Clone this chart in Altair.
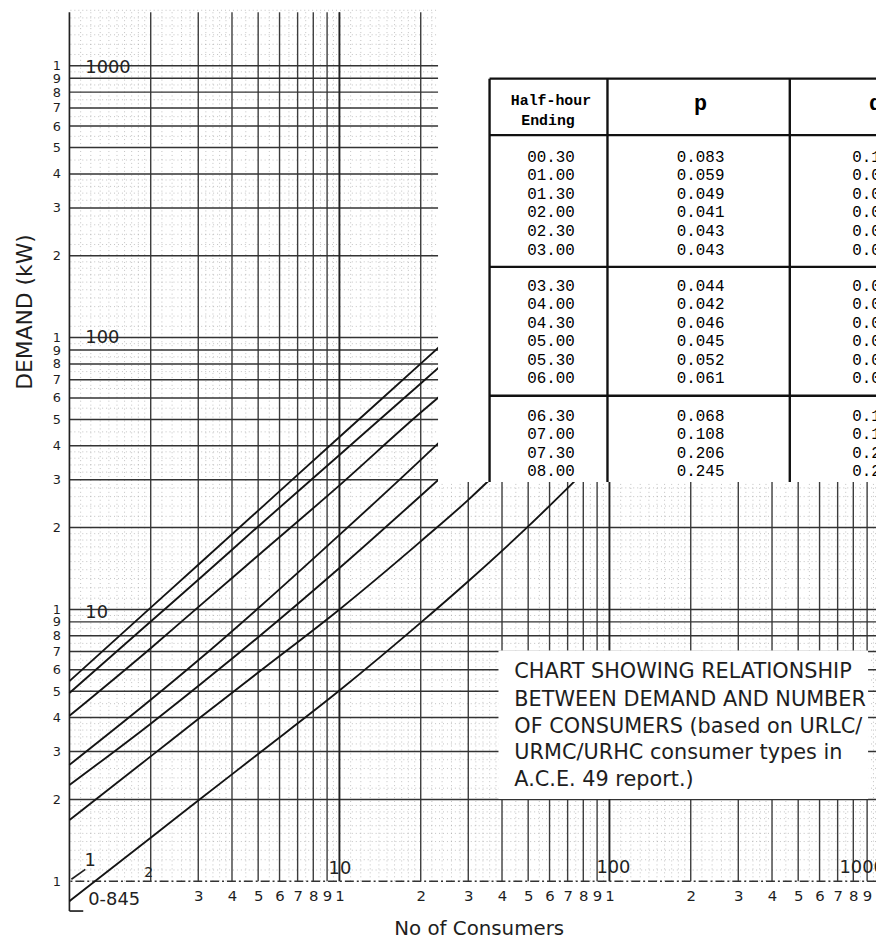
import altair as alt
import pandas as pd

# ---------------- data ----------------
# curves: number of consumers (N) vs demand (kW)
line1_n = [1, 2, 3, 5, 10, 20, 25]
line1_d = [5.45, 10.15, 14.6, 23.1, 43.1, 80.2, 98.0]
line2_n = [1, 2, 3, 5, 10, 20, 25]
line2_d = [4.93, 9.03, 12.85, 20.2, 37.0, 67.8, 82.5]
line3_n = [1, 2, 3, 5, 10, 20, 25]
line3_d = [4.06, 7.2, 10.2, 15.8, 28.6, 53.0, 64.0]
line4_n = [1, 2, 3, 5, 10, 20, 25]
line4_d = [2.68, 4.65, 6.5, 10.1, 18.8, 35.5, 43.8]
line5_n = [1, 2, 3, 5, 10, 20, 25]
line5_d = [2.26, 3.8, 5.23, 7.9, 14.2, 26.2, 32.0]
line6_n = [1, 2, 3, 5, 10, 20, 30, 36]
line6_d = [1.68, 2.88, 3.95, 5.86, 10.0, 17.8, 25.3, 30.0]
line7_n = [1, 2, 3, 5, 10, 20, 30, 50, 75]
line7_d = [0.845, 1.445, 1.98, 2.94, 5.03, 8.94, 12.7, 20.2, 29.9]

# grid / tick values
major_mantissa = [1, 2, 3, 4, 5, 6, 7, 8, 9]
minor_mantissa = [1.1, 1.2, 1.3, 1.4, 1.5, 1.6, 1.7, 1.8, 1.9,
                  2.2, 2.4, 2.6, 2.8, 3.2, 3.4, 3.6, 3.8,
                  4.5, 5.5, 6.5, 7.5, 8.5, 9.5]
decades = [1, 10, 100, 1000]
x_label_values = [3, 4, 5, 6, 7, 8, 9, 10, 20, 30, 40, 50, 60, 70, 80, 90,
                  100, 200, 300, 400, 500, 600, 700, 800, 900]
y_label_values = [1, 2, 3, 4, 5, 6, 7, 8, 9, 10, 20, 30, 40, 50, 60, 70, 80, 90,
                  100, 200, 300, 400, 500, 600, 700, 800, 900, 1000]

# pasted table (partially visible)
table_time = ["00.30", "01.00", "01.30", "02.00", "02.30", "03.00",
              "03.30", "04.00", "04.30", "05.00", "05.30", "06.00",
              "06.30", "07.00", "07.30", "08.00"]
table_p = ["0.083", "0.059", "0.049", "0.041", "0.043", "0.043",
           "0.044", "0.042", "0.046", "0.045", "0.052", "0.061",
           "0.068", "0.108", "0.206", "0.245"]
table_q = ["0.1", "0.0", "0.0", "0.0", "0.0", "0.0",
           "0.0", "0.0", "0.0", "0.0", "0.0", "0.0",
           "0.1", "0.1", "0.2", "0.2"]

caption_lines = ["CHART SHOWING RELATIONSHIP",
                 "BETWEEN DEMAND AND NUMBER",
                 "OF CONSUMERS (based on URLC/",
                 "URMC/URHC consumer types in",
                 "A.C.E. 49 report.)"]

# ---------------- layout ----------------
W, H = 814, 877
XD, YD = 272.5, 274.33          # pixels per decade
X_MAX = 10 ** (W / XD)
Y_MAX = 10 ** (H / YD)
PL, PB = 70, 885                 # page x of N=1, page y of D=1
FONT = "DejaVu Sans"
MONO = "Liberation Mono"


def nx(px):   # page x -> number of consumers on the log scale
    return 10 ** ((px - PL) / XD)


def dy(py):   # page y -> demand on the log scale
    return 10 ** ((PB - py) / YD)


xs = alt.Scale(type="log", domain=[1, X_MAX], nice=False)
ys = alt.Scale(type="log", domain=[1, Y_MAX], nice=False)
LABEL_EXPR = "substring(toString(datum.value), 0, 1)"
ax_x = alt.Axis(values=x_label_values, labelExpr=LABEL_EXPR,
                grid=False, ticks=False, domain=False, labelOverlap=False, labelFlush=False,
                labelBound=False, labelFont=FONT, labelFontSize=15, labelColor="#1e1e1e",
                labelPadding=7, title="No of Consumers", titleFont=FONT, titleFontSize=20,
                titleFontWeight="normal", titleColor="#1e1e1e",
                titleX=413, titleY=48, titleAlign="center", titleBaseline="middle")
ax_y = alt.Axis(values=y_label_values, labelExpr=LABEL_EXPR,
                grid=False, ticks=False, domain=False, labelOverlap=False, labelFlush=False,
                labelBound=False, labelFont=FONT, labelFontSize=13, labelColor="#1e1e1e",
                labelPadding=9, title="DEMAND (kW)", titleFont=FONT, titleFontSize=22,
                titleFontWeight="normal", titleColor="#1e1e1e",
                titleX=-45, titleY=302, titleAngle=270, titleAlign="center",
                titleBaseline="middle")


def X(f):
    return alt.X(f, type="quantitative", scale=xs, axis=ax_x)


def Y(f):
    return alt.Y(f, type="quantitative", scale=ys, axis=ax_y)


curves = []
for name, ns, ds in [("1", line1_n, line1_d), ("2", line2_n, line2_d),
                     ("3", line3_n, line3_d), ("4", line4_n, line4_d),
                     ("5", line5_n, line5_d), ("6", line6_n, line6_d),
                     ("7", line7_n, line7_d)]:
    for n, d in zip(ns, ds):
        curves.append({"line": name, "n": n, "d": d})
curves = pd.DataFrame(curves)

major = pd.DataFrame({"v": [m * k for k in decades for m in major_mantissa if m * k > 1]})
minor = pd.DataFrame({"v": [m * k for k in decades for m in minor_mantissa]})
decade_df = pd.DataFrame({"v": [10, 100, 1000]})

minor_v = alt.Chart(minor).mark_rule(color="#9a9a9a", strokeWidth=1, strokeDash=[1, 3], opacity=0.6).encode(x=X("v"))
minor_h = alt.Chart(minor).mark_rule(color="#9a9a9a", strokeWidth=1, strokeDash=[1, 3], opacity=0.6).encode(y=Y("v"))
major_v = alt.Chart(major).mark_rule(color="#3c3c3c", strokeWidth=1.4).encode(x=X("v"))
major_h = alt.Chart(major).mark_rule(color="#333", strokeWidth=1.5).encode(y=Y("v"))
dec_v = alt.Chart(decade_df).mark_rule(color="#222", strokeWidth=1.7).encode(x=X("v"))
base_h = alt.Chart(pd.DataFrame({"v": [1]})).mark_rule(color="#333", strokeWidth=1.4,
                                                      strokeDash=[9, 3, 2, 3]).encode(y=Y("v"))

# left axis line with bracket down to 0.845, and the small pointer of the "1"
segs = pd.DataFrame({"n": [1, 1, 1.017], "n2": [1, 1.125, 1.145],
                     "d": [Y_MAX, 0.777, 1.017], "d2": [0.777, 0.777, 1.106]})
segs_l = alt.Chart(segs).mark_rule(color="#222", strokeWidth=1.7).encode(
    x=X("n"), x2="n2:Q", y=Y("d"), y2="d2:Q")

lines = alt.Chart(curves).mark_line(color="#141414", strokeWidth=1.9, interpolate="monotone").encode(
    x=X("n"), y=Y("d"), detail="line:N", order="n:Q")

# white areas pasted over the chart (table cut-out and caption box)
cover = pd.DataFrame({"n": [nx(442), nx(503)], "n2": [5000, nx(876)],
                      "d": [dy(482), dy(802)], "d2": [1e5, dy(652)]})
cover_l = alt.Chart(cover).mark_rect(color="white").encode(
    x=X("n"), x2="n2:Q", y=Y("d"), y2="d2:Q")

# decade labels inside the plot
lab_left = pd.DataFrame({"n": [nx(86)] * 3, "d": [dy(614), dy(337), dy(64)], "t": ["10", "100", "1000"]})
lab_left_l = alt.Chart(lab_left).mark_text(font=FONT, fontSize=18, align="left", baseline="middle",
                                           color="#222").encode(x=X("n"), y=Y("d"), text="t:N")
lab_bot = pd.DataFrame({"n": [nx(343), nx(619), nx(870)], "d": [dy(873), dy(872), dy(872)],
                        "t": ["10", "100", "1000"]})
lab_bot_l = alt.Chart(lab_bot).mark_text(font=FONT, fontSize=18, align="center", baseline="middle",
                                         color="#222").encode(x=X("n"), y=Y("d"), text="t:N")
small = pd.DataFrame({"n": [nx(150), nx(91)], "d": [dy(877), dy(865)], "t": ["2", "1"], "s": [14, 18]})
small_l = alt.Chart(small).mark_text(font=FONT, align="center", baseline="middle", color="#222").encode(
    x=X("n"), y=Y("d"), text="t:N", size=alt.Size("s:Q", scale=None, legend=None))
k845 = pd.DataFrame({"n": [nx(89)], "d": [dy(904)], "t": ["0-845"]})
k845_l = alt.Chart(k845).mark_text(font=FONT, fontSize=18, align="left", baseline="middle",
                                   color="#222").encode(x=X("n"), y=Y("d"), text="t:N")

# caption text in its white box
cap = pd.DataFrame({"t": caption_lines, "n": [nx(519)] * 5,
                    "d": [dy(y) for y in [674, 702, 729, 756, 783]]})
cap_l = alt.Chart(cap).mark_text(font=FONT, fontSize=21, align="left", baseline="middle",
                                 color="#1e1e1e").encode(x=X("n"), y=Y("d"), text="t:N")

# table
group_top = [154, 284, 415]
rows = []
for i, (t, p, q) in enumerate(zip(table_time, table_p, table_q)):
    y = group_top[i // 6] + 18.7 * (i % 6)
    rows.append({"time": t, "p": p, "q": q, "d": dy(y),
                 "tn": nx(556), "pn": nx(707), "qn": nx(860)})
rows = pd.DataFrame(rows)
t_time = alt.Chart(rows).mark_text(font=MONO, fontSize=16, align="center", baseline="middle",
                                   color="#000").encode(x=X("tn"), y=Y("d"), text="time:N")
t_p = alt.Chart(rows).mark_text(font=MONO, fontSize=16, align="center", baseline="middle",
                                color="#000").encode(x=X("pn"), y=Y("d"), text="p:N")
t_q = alt.Chart(rows).mark_text(font=MONO, fontSize=16, align="left", baseline="middle",
                                color="#000").encode(x=X("qn"), y=Y("d"), text="q:N")

hdr = pd.DataFrame({"t": ["Half-hour", "Ending", "p"],
                    "n": [nx(556), nx(553), nx(707)],
                    "d": [dy(97), dy(117), dy(100)],
                    "s": [15, 15, 22]})
hdr_l = alt.Chart(hdr).mark_text(font=MONO, fontWeight="bold", align="center", baseline="middle",
                                 color="#000").encode(x=X("n"), y=Y("d"), text="t:N",
                                                      size=alt.Size("s:Q", scale=None, legend=None))
hdr_q = alt.Chart(pd.DataFrame({"n": [nx(877)], "d": [dy(100)], "t": ["q"]})).mark_text(
    font=MONO, fontWeight="bold", fontSize=22, align="left", baseline="middle", color="#000").encode(
    x=X("n"), y=Y("d"), text="t:N")

tseg_px = pd.DataFrame({
    "x1": [494, 494, 494, 494, 494, 613, 797],
    "x2": [900, 900, 900, 900, 494, 613, 797],
    "y1": [75, 132, 265, 395, 75, 75, 75],
    "y2": [75, 132, 265, 395, 482, 482, 482]})
tseg = pd.DataFrame({"n": [nx(v) for v in tseg_px.x1], "n2": [nx(v) for v in tseg_px.x2],
                     "d": [dy(v) for v in tseg_px.y1], "d2": [dy(v) for v in tseg_px.y2]})
t_rules = alt.Chart(tseg).mark_rule(color="#111", strokeWidth=2.4).encode(
    x=X("n"), x2="n2:Q", y=Y("d"), y2="d2:Q")

chart = alt.layer(
    minor_v, minor_h, major_v, major_h, dec_v, base_h, segs_l,
    lines, cover_l, lab_left_l, lab_bot_l, small_l, k845_l, cap_l,
    t_rules, t_time, t_p, t_q, hdr_l, hdr_q
).properties(
    width=W, height=H,
    autosize=alt.AutoSizeParams(type="none"),
    padding={"left": PL - 8, "top": 0, "right": 0, "bottom": 934 - H},
    background="white"
).configure_view(stroke=None)

chart.save("out.html", embed_options={"renderer": "svg", "actions": False})
